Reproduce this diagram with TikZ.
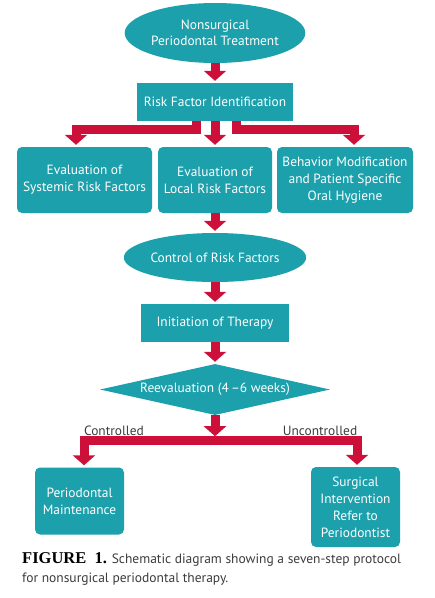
\documentclass[tikz,border=0pt]{standalone}
\usepackage{fontspec}
\setmainfont{PT Sans}
\newfontfamily\capserif{Liberation Serif}
\usetikzlibrary{shapes.geometric,arrows.meta}
\definecolor{tealfill}{RGB}{27,160,172}
\definecolor{arrowred}{RGB}{205,16,58}
\definecolor{captext}{RGB}{60,60,60}
\begin{document}
\begin{tikzpicture}[
  x=1pt, y=-1pt,
  oval/.style={ellipse, fill=tealfill, text=white, align=center, inner sep=0pt, font=\fontsize{13.4}{16}\selectfont},
  box/.style={rectangle, fill=tealfill, text=white, align=center, inner sep=0pt, font=\fontsize{13.4}{17}\selectfont},
  roundbox/.style={box, rounded corners=5pt},
  check/.style={diamond, fill=tealfill, text=white, inner sep=0pt, shape aspect=4.5, minimum width=230pt, minimum height=51pt, font=\fontsize{13.4}{16}\selectfont},
  branch/.style={text=captext, font=\fontsize{13.4}{14}\selectfont},
  flow/.style={draw=arrowred, line width=9pt, -{Triangle[width=22pt,length=10pt]}, shorten >=2pt}
]
\useasboundingbox (0,0) rectangle (435,598);

\node[oval, minimum width=180pt, minimum height=60pt] (nst) at (215,33) {Nonsurgical\\Periodontal Treatment};
\node[box, minimum width=156pt, minimum height=38pt] (rfi) at (215,102) {Risk Factor Identification};
\node[roundbox, minimum width=135pt, minimum height=66pt] (evsys) at (84.5,180) {Evaluation of\\Systemic Risk Factors};
\node[roundbox, minimum width=114pt, minimum height=66pt] (evloc) at (215,180) {Evaluation of\\Local Risk Factors};
\node[roundbox, minimum width=136pt, minimum height=66pt] (evbeh) at (345,180) {Behavior Modification\\and Patient Specific\\Oral Hygiene};
\node[oval, minimum width=180pt, minimum height=49pt] (crf) at (215,257.5) {Control of Risk Factors};
\node[box, minimum width=148pt, minimum height=38pt] (init) at (215,323) {Initiation of Therapy};
\node[check] (reeval) at (215,389.5) {Reevaluation (4\,--6 weeks)};
\node[roundbox, minimum width=89pt, minimum height=67pt] (maint) at (79.5,501) {Periodontal\\Maintenance};
\node[roundbox, minimum width=89pt, minimum height=80pt] (surg) at (355.5,507) {Surgical\\Intervention\\Refer to\\Periodontist};

\node[branch] (ctrl) at (114,431) {Controlled};
\node[branch] (unctrl) at (320,431) {Uncontrolled};

\draw[flow] (nst) -- (rfi);
\draw[flow] ([xshift=-19pt]rfi.south) -- ++(0,8.5) -| ([xshift=-8.5pt]evsys.north);
\draw[flow] (rfi) -- (evloc);
\draw[flow] ([xshift=21.5pt]rfi.south) -- ++(0,8.5) -| ([xshift=9pt]evbeh.north);
\draw[flow] (evloc) -- (crf);
\draw[flow] (crf) -- (init);
\draw[flow] (init) -- (reeval);
\draw[flow, shorten >=0pt] (reeval.south) -- ++(0,21);
\draw[flow] (reeval.south) ++(0,25.5) -| ([xshift=4.5pt]maint.north);
\draw[flow] (reeval.south) ++(0,25.5) -| ([xshift=1.5pt]surg.north);

\node[anchor=north west, align=left, text=captext, inner sep=0pt, font=\fontsize{13.5}{19.5}\selectfont] (cap) at (22,552)
  {{\capserif\bfseries\fontsize{16.5}{19.5}\selectfont\color{black}FIGURE\ \ 1.} Schematic diagram showing a seven-step protocol\\for nonsurgical periodontal therapy.};
\end{tikzpicture}
\end{document}
